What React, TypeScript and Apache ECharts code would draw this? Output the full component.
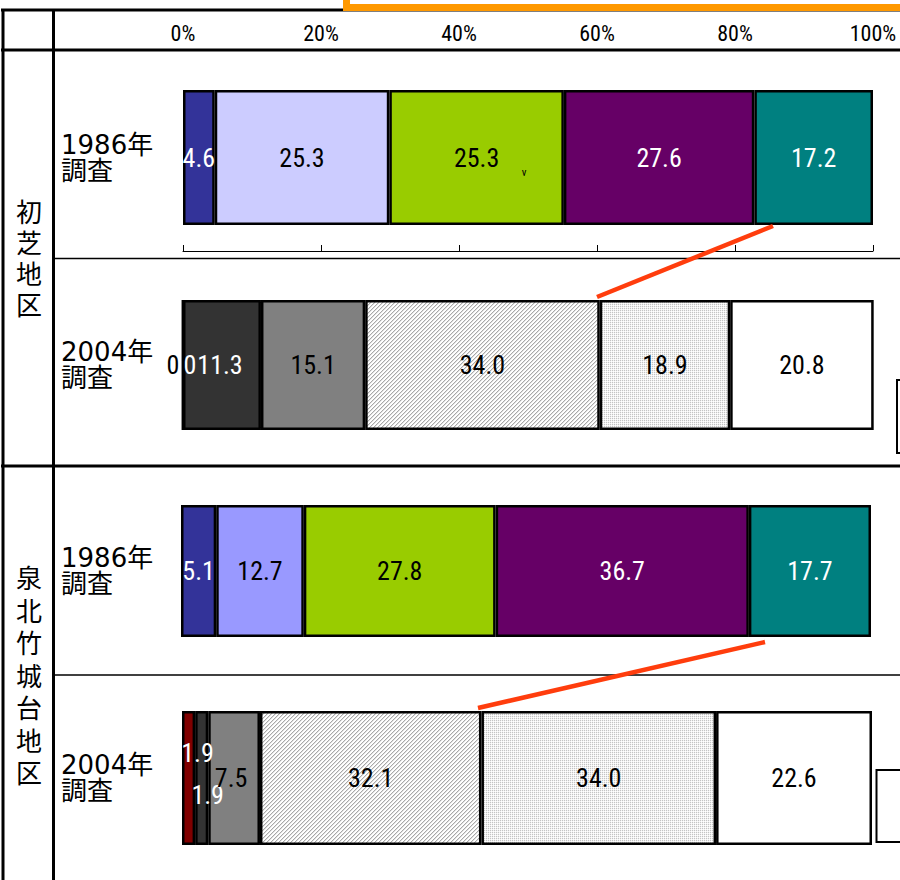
import React, { useEffect, useRef } from 'react';
import * as echarts from 'echarts';

// ---- data ----
const areaNames = ['初芝地区', '泉北竹城台地区'];
const surveyLabels = ['1986年\n調査', '2004年\n調査'];
const hatsushiba1986 = [4.6, 25.3, 25.3, 27.6, 17.2];
const hatsushiba2004 = [0.0, 0.0, 11.3, 15.1, 34.0, 18.9, 20.8];
const senboku1986 = [5.1, 12.7, 27.8, 36.7, 17.7];
const senboku2004 = [1.9, 1.9, 7.5, 32.1, 34.0, 22.6];
const percentTicks = [0, 20, 40, 60, 80, 100];

// ---- styles ----
const NARROW = "'Liberation Sans Narrow', 'Roboto Condensed', 'Liberation Sans', sans-serif";
const ROWFONT = "'DejaVu Sans', 'Noto Sans CJK JP', sans-serif";
const CJK = "'Noto Sans CJK JP', sans-serif";

const grids = [
  { left: 183, top: 90, height: 135 },
  { left: 183, top: 300, height: 130 },
  { left: 181, top: 505, height: 132 },
  { left: 182, top: 711, height: 134 },
];

const fills1986a = ['#333399', '#CCCCFF', '#99CC00', '#660066', '#008080'];
const fills1986b = ['#333399', '#9999FF', '#99CC00', '#660066', '#008080'];
const fills2004a = ['#800000', '#800000', '#333333', '#808080', 'HATCH', 'DOTS', '#FFFFFF'];
const fills2004b = ['#800000', '#333333', '#808080', 'HATCH', 'DOTS', '#FFFFFF'];

const lbl1986 = ['#fff', '#000', '#000', '#fff', '#fff'];
const lbl2004a = ['#000', '#fff', '#fff', '#000', '#000', '#000', '#000'];
const lbl2004b = ['#fff', '#fff', '#000', '#000', '#000', '#000'];
const off2004a = [[-10, 0], [7, 0], [-2, 0]];
const off2004b = [[9, -25], [6, 17], [-3, 0]];

function makePattern(kind: string) {
  const c = document.createElement('canvas');
  c.width = 8;
  c.height = 8;
  const ctx = c.getContext('2d')!;
  ctx.fillStyle = '#ffffff';
  ctx.fillRect(0, 0, 8, 8);
  for (let y = 0; y < 8; y++) {
    for (let x = 0; x < 8; x++) {
      if (kind === 'HATCH') {
        const m = (x + y) % 4;
        if (m === 0) { ctx.fillStyle = '#a8a8a8'; ctx.fillRect(x, y, 1, 1); }
        else if (m === 1) { ctx.fillStyle = '#e2e2e2'; ctx.fillRect(x, y, 1, 1); }
      } else {
        if (x % 2 === 0 && y % 2 === 0) { ctx.fillStyle = '#c4c4c4'; ctx.fillRect(x, y, 1, 1); }
        else if ((x + y) % 2 === 1) { ctx.fillStyle = '#f2f2f2'; ctx.fillRect(x, y, 1, 1); }
      }
    }
  }
  return { image: c.toDataURL(), repeat: 'repeat', imageWidth: 8, imageHeight: 8 };
}

export default function App() {
  const ref = useRef<HTMLDivElement>(null);
  useEffect(() => {
    if (!ref.current) return;
    const chart = echarts.init(ref.current, undefined, { renderer: 'svg' });
    const patterns: Record<string, any> = { HATCH: makePattern('HATCH'), DOTS: makePattern('DOTS') };
    const resolve = (f: string) => patterns[f] || f;

    const build = (values: number[], gi: number, xi: number, fills: string[], lblColors: string[], offsets: number[][]) =>
      values.map((v, i) => ({
        type: 'bar',
        xAxisIndex: xi,
        yAxisIndex: gi,
        stack: 'g' + gi,
        data: [v],
        barWidth: '100%',
        clip: false,
        silent: true,
        itemStyle: { color: resolve(fills[i]), borderColor: '#000', borderWidth: 2.5 },
        label: {
          show: true,
          position: 'inside',
          formatter: (p: any) => (p.value === 0 ? '0' : Number(p.value).toFixed(1)),
          color: lblColors[i],
          offset: offsets[i] || [0, 0],
          fontSize: 26,
          fontFamily: NARROW,
        },
      }));

    const hiddenX = (gi: number) => ({
      type: 'value', gridIndex: gi, min: 0, max: 100, interval: 20, show: false,
    });

    const option: any = {
      animation: false,
      grid: grids.map((g) => ({ left: g.left, top: g.top, height: g.height, width: 690 })),
      xAxis: [
        {
          type: 'value', gridIndex: 0, position: 'top', min: percentTicks[0], max: percentTicks[percentTicks.length - 1],
          interval: 20, offset: 46,
          axisLine: { show: false }, axisTick: { show: false }, splitLine: { show: false },
          axisLabel: { show: true, margin: 0, formatter: (v: number) => v + '%', fontSize: 22, fontFamily: NARROW, color: '#000' },
        },
        {
          type: 'value', gridIndex: 0, position: 'bottom', min: 0, max: 100, interval: 20, offset: 26,
          axisLine: { show: true, lineStyle: { color: '#000', width: 1 } },
          axisTick: { show: true, inside: true, length: 6, lineStyle: { color: '#000', width: 1 } },
          axisLabel: { show: false }, splitLine: { show: false },
        },
        hiddenX(1), hiddenX(2), hiddenX(3),
      ],
      yAxis: grids.map((g, gi) => ({
        type: 'category',
        gridIndex: gi,
        data: [surveyLabels[gi % 2]],
        axisLine: { show: false },
        axisTick: { show: false },
        axisLabel: {
          show: true, align: 'left', margin: g.left - 61, fontSize: 26, lineHeight: 26,
          fontFamily: ROWFONT, color: '#000',
        },
      })),
      series: [
        ...build(hatsushiba1986, 0, 1, fills1986a, lbl1986, []),
        ...build(hatsushiba2004, 1, 2, fills2004a, lbl2004a, off2004a),
        ...build(senboku1986, 2, 3, fills1986b, lbl1986, []),
        ...build(senboku2004, 3, 4, fills2004b, lbl2004b, off2004b),
      ],
      graphic: {
        elements: [
          // table frame
          { type: 'line', shape: { x1: 1, y1: 10, x2: 900, y2: 10 }, style: { stroke: '#000', lineWidth: 3 } },
          { type: 'line', shape: { x1: 3, y1: 9, x2: 3, y2: 880 }, style: { stroke: '#000', lineWidth: 3 } },
          { type: 'line', shape: { x1: 53.5, y1: 9, x2: 53.5, y2: 880 }, style: { stroke: '#000', lineWidth: 3 } },
          { type: 'line', shape: { x1: 1, y1: 50, x2: 900, y2: 50 }, style: { stroke: '#000', lineWidth: 3 } },
          { type: 'line', shape: { x1: 1, y1: 466, x2: 900, y2: 466 }, style: { stroke: '#000', lineWidth: 3 } },
          { type: 'line', shape: { x1: 55, y1: 258.5, x2: 900, y2: 258.5 }, style: { stroke: '#000', lineWidth: 1.5 } },
          { type: 'line', shape: { x1: 55, y1: 675, x2: 900, y2: 675 }, style: { stroke: '#000', lineWidth: 1.5 } },
          // orange frame corner at top
          { type: 'rect', shape: { x: 343, y: 0, width: 7, height: 11 }, style: { fill: '#FF9900' }, z: 50 },
          { type: 'rect', shape: { x: 343, y: 4, width: 557, height: 7 }, style: { fill: '#FF9900' }, z: 50 },
          // area labels (vertical)
          {
            type: 'text', x: 29, y: 257,
            style: { text: areaNames[0].split('').join('\n'), fontSize: 26, lineHeight: 31, fontFamily: CJK, fill: '#000', align: 'center', verticalAlign: 'middle' },
          },
          {
            type: 'text', x: 29, y: 674,
            style: { text: areaNames[1].split('').join('\n'), fontSize: 26, lineHeight: 32.5, fontFamily: CJK, fill: '#000', align: 'center', verticalAlign: 'middle' },
          },
          // connectors
          { type: 'line', shape: { x1: 773, y1: 226, x2: 597, y2: 297 }, style: { stroke: '#FF3D0D', lineWidth: 4.5 }, z: 100 },
          { type: 'line', shape: { x1: 765, y1: 642, x2: 478, y2: 708 }, style: { stroke: '#FF3D0D', lineWidth: 4.5 }, z: 100 },
          // partial legend boxes at right edge
          { type: 'rect', shape: { x: 897, y: 380, width: 30, height: 73 }, style: { fill: '#fff', stroke: '#000', lineWidth: 2 } },
          { type: 'rect', shape: { x: 876.5, y: 770, width: 40, height: 72 }, style: { fill: '#fff', stroke: '#000', lineWidth: 2 } },
          // stray mark
          { type: 'text', x: 524, y: 172, style: { text: 'v', fontSize: 11, fontFamily: NARROW, fill: '#000', align: 'center', verticalAlign: 'middle' }, z: 100 },
        ],
      },
    };
    chart.setOption(option);
    return () => chart.dispose();
  }, []);
  return <div ref={ref} style={{ position: 'absolute', left: 0, top: 0, width: 900, height: 880, background: '#fff' }} />;
}
